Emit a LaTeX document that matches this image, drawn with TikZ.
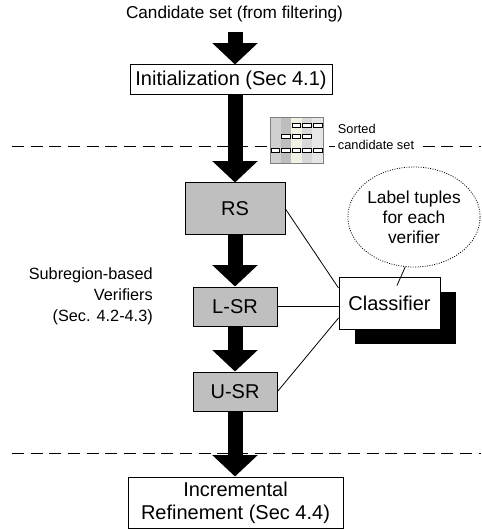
\documentclass[tikz,border=0pt]{standalone}
\usepackage{fontspec}
\setmainfont{Liberation Sans}
\usetikzlibrary{shapes.geometric,arrows.meta,shadows}
\definecolor{icA}{HTML}{D0D0D0}
\definecolor{icB}{HTML}{BDBDBD}
\definecolor{icC}{HTML}{F2F2E4}
\definecolor{icD}{HTML}{D8D8D8}
\definecolor{icE}{HTML}{E6E6E6}
\tikzset{box/.style={draw,line width=0.75pt,inner sep=0pt,align=center,font=\fontsize{15}{17.25}\selectfont},
verifier/.style={box,fill=gray!50,minimum width=63pt,minimum height=29.25pt},
bigarrow/.style={line width=11.25pt,-{Triangle[width=33pt,length=16pt]}},
link/.style={line width=0.6pt},
sep/.style={line width=0.75pt,dash pattern=on 9pt off 5pt},
cell/.style={draw,fill=white,line width=0.6pt}}

\begin{document}
\begin{tikzpicture}[x=0.75pt,y=-0.75pt]
\useasboundingbox (0,0) rectangle (481,530);
% separators
\draw[sep] (12,147) -- (481,147);
\draw[sep] (12,453) -- (481,453);

\node[font=\fontsize{12.9}{15}\selectfont] (cand) at (234.5,14) {Candidate set (from filtering)};
\node[box,minimum width=151.5pt,minimum height=22.5pt] (init) at (231,80) {Initialization (Sec 4.1)};
\node[verifier,minimum width=75pt,minimum height=39pt] (rs) at (235,209) {RS};
\node[verifier] (lsr) at (235,306.5) {L-SR};
\node[verifier] (usr) at (235,391.5) {U-SR};
\node[box,minimum width=161.25pt,minimum height=38.25pt] (refine) at (235.5,502.5) {Incremental\\Refinement (Sec 4.4)};

\node[box,fill=white,minimum width=75.75pt,minimum height=39pt,
  drop shadow={shadow xshift=12pt,shadow yshift=-11.25pt,fill=black,opacity=1}] (classifier) at (389.5,303) {Classifier};
\node[ellipse,draw,line width=0.6pt,dash pattern=on 0.7pt off 1.1pt,minimum width=88.5pt,minimum height=75pt,
  inner sep=0pt,align=center,font=\fontsize{13}{15}\selectfont] (tuples) at (414,217) {Label tuples\\for each\\verifier};

\node[align=right,anchor=east,inner sep=0pt,font=\fontsize{12.2}{15.75}\selectfont] (verifiers) at (153,296)
  {Subregion-based\\Verifiers\\(Sec. 4.2-4.3)};

% sorted candidate set icon
\foreach \i/\col in {0/icA,1/icB,2/icC,3/icD,4/icE}
  \fill[\col] (270+\i*10.6,117) rectangle ++(10.6,46);
\draw[gray,line width=0.5pt] (270,117) rectangle (323,163);
\foreach \i in {2,3,4}
  \draw[cell] (271+\i*10.6,123) rectangle ++(8.6,4);
\foreach \i in {1,2,3}
  \draw[cell] (271+\i*10.6,134) rectangle ++(8.6,4);
\foreach \i in {0,...,4}
  \draw[cell] (271+\i*10.6,148) rectangle ++(8.6,4);
\node[anchor=west,fill=white,align=left,inner sep=2pt,font=\fontsize{9.6}{11.5}\selectfont] (sorted) at (335,137)
  {Sorted\\candidate set};

\draw[bigarrow] ([yshift=-4pt]cand.south -| rs.north) -- (init.north -| rs.north);
\draw[bigarrow] (init.south -| rs.north) -- (rs.north);
\draw[bigarrow] (rs) -- (lsr);
\draw[bigarrow] (lsr) -- (usr);
\draw[bigarrow] (usr.south) -- (refine.north -| usr.south);

\draw[link] (rs.east) -- ([yshift=11.25pt]classifier.west);
\draw[link] (lsr.east) -- (lsr.east -| classifier.west);
\draw[link] (usr.east) -- ([yshift=-11.25pt]classifier.west);
\draw[link] (tuples.-100) -- ([xshift=5.6pt,yshift=-6.75pt]classifier.north);
\end{tikzpicture}
\end{document}
